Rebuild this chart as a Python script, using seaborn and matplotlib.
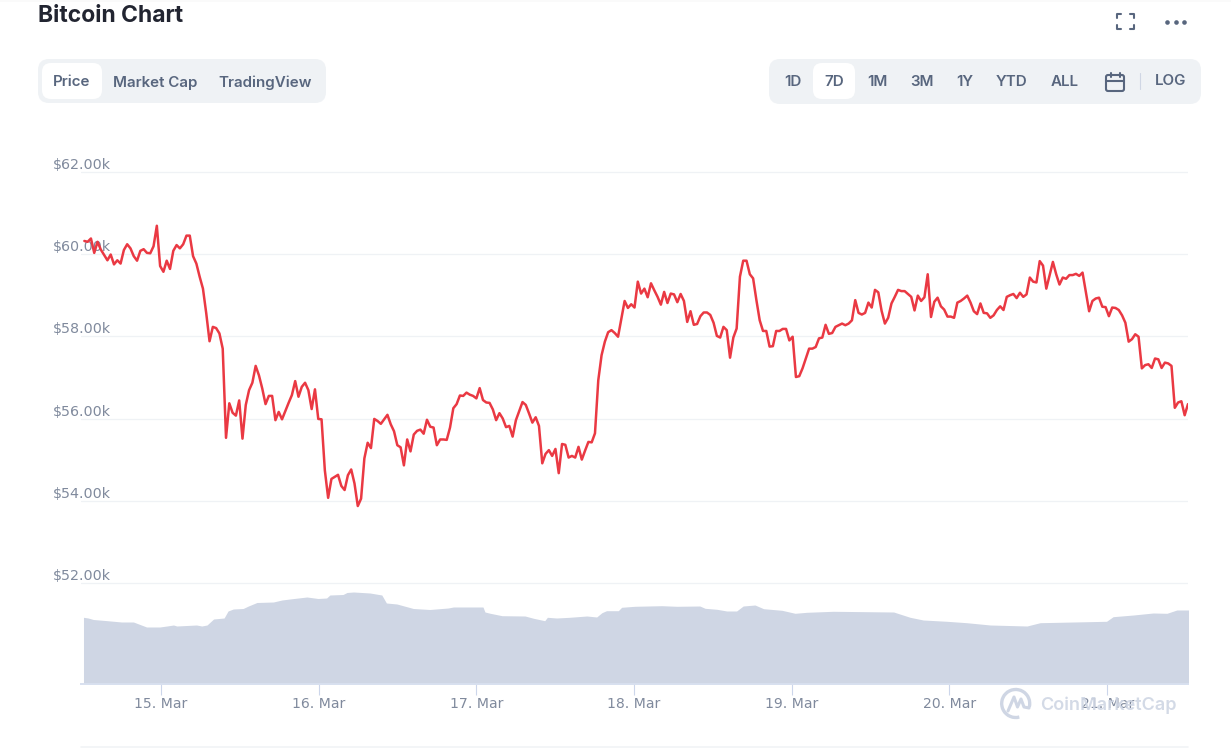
import pandas as pd
import numpy as np
import matplotlib.pyplot as plt
import matplotlib.dates as mdates
from matplotlib.patches import FancyBboxPatch, Arc, Rectangle
import seaborn as sns

# ---------------------------------------------------------
# Data
# ---------------------------------------------------------
# BTC price in $k, one reading about every 30 minutes
prices = [
    60.32, 60.30, 60.38, 60.03, 60.30, 60.11, 59.98, 59.85, 59.99, 59.75, 59.85, 59.77,
    60.10, 60.24, 60.14, 59.95, 59.84, 60.08, 60.12, 60.03, 60.02, 60.19, 60.69, 59.71,
    59.57, 59.84, 59.64, 60.08, 60.22, 60.14, 60.24, 60.45, 60.45, 59.95, 59.77, 59.45,
    59.16, 58.56, 57.88, 58.23, 58.20, 58.07, 57.70, 55.53, 56.37, 56.14, 56.07, 56.44,
    55.51, 56.33, 56.69, 56.87, 57.28, 57.05, 56.73, 56.35, 56.55, 56.55, 55.96, 56.16,
    55.98, 56.18, 56.38, 56.57, 56.91, 56.53, 56.77, 56.87, 56.69, 56.23, 56.71, 55.99,
    55.98, 54.74, 54.07, 54.53, 54.58, 54.63, 54.36, 54.26, 54.62, 54.76, 54.42, 53.87,
    54.05, 55.03, 55.41, 55.28,
    55.99, 55.94, 55.87, 55.98, 56.09, 55.86, 55.69, 55.35, 55.30, 54.86, 55.49, 55.20,
    55.61, 55.70, 55.73, 55.63, 55.97, 55.80, 55.78, 55.35, 55.49, 55.49, 55.48, 55.78,
    56.25, 56.35, 56.56, 56.55, 56.63, 56.58, 56.55, 56.49, 56.74, 56.45, 56.39, 56.38,
    56.22, 55.96, 56.13, 56.00, 55.79, 55.82, 55.56, 55.96, 56.18, 56.40, 56.33, 56.12,
    55.90, 56.03, 55.82, 54.91, 55.14, 55.23, 55.09, 55.26, 54.67, 55.38, 55.36, 55.05,
    55.09, 55.05, 55.31, 55.00, 55.22, 55.43, 55.42, 55.64, 56.93, 57.54, 57.87, 58.10,
    58.15, 58.08, 57.99, 58.43, 58.86, 58.69, 58.78, 58.70, 59.33, 59.04, 59.16, 58.95,
    59.29, 59.12, 58.96, 58.77,
    59.08, 58.81, 59.04, 59.02, 58.83, 59.03, 58.86, 58.35, 58.61, 58.28, 58.30, 58.49,
    58.58, 58.58, 58.52, 58.33, 58.01, 57.97, 58.23, 58.15, 57.48, 57.97, 58.19, 59.45,
    59.84, 59.84, 59.51, 59.41, 58.88, 58.39, 58.13, 58.13, 57.75, 57.76, 58.13, 58.13,
    58.18, 58.18, 57.90, 57.99, 57.01, 57.03, 57.22, 57.46, 57.70, 57.70, 57.74, 57.95,
    57.97, 58.28, 58.06, 58.08, 58.23, 58.27, 58.31, 58.27, 58.31, 58.39, 58.88, 58.57,
    58.53, 58.57, 58.82, 58.70, 59.13, 59.07, 58.62, 58.31, 58.45, 58.80, 58.96, 59.13,
    59.10, 59.10, 59.03, 58.96, 58.63, 58.99, 58.86, 58.95, 59.51,
    58.47, 58.84, 58.94, 58.73, 58.65, 58.48, 58.48, 58.45, 58.82, 58.86, 58.92, 58.99,
    58.82, 58.61, 58.54, 58.80, 58.57, 58.56, 58.45, 58.51, 58.64, 58.73, 58.64, 58.96,
    59.00, 59.03, 58.93, 59.06, 58.96, 59.02, 59.43, 59.33, 59.31, 59.83, 59.72, 59.16,
    59.49, 59.81, 59.51, 59.26, 59.43, 59.40, 59.49, 59.49, 59.52, 59.47, 59.55, 59.08,
    58.61, 58.86, 58.92, 58.94, 58.72, 58.71, 58.49, 58.70, 58.69, 58.64, 58.51, 58.33,
    57.87, 57.93, 58.05, 57.99, 57.22, 57.30, 57.32, 57.23, 57.46, 57.44, 57.23, 57.36,
    57.34, 57.28, 56.26, 56.39, 56.42, 56.08, 56.35,
]

# volume band, hours after 15 Mar 00:00 and height
volume_hours = [
    -11.8, -11.1, -10.3, -8.5, -6, -4.2, -3.2, -2.2, -0.2, 0.9, 1.9, 2.4, 5.4, 6.2, 7, 7.5, 8,
    9.6, 10.2, 11, 12.5, 13.3, 14.6, 17.1, 18.4, 19.6, 22.2, 23.9, 25.2, 25.7, 27.7, 28.3, 29.3,
    31.8, 33.6, 34.3, 35.9, 38.4, 40.9, 43.7, 44.5, 49, 49.3, 50.1, 51.9, 55.4, 56.7, 58.4, 58.8,
    60.2, 62.2, 64.8, 66.3, 67.1, 67.8, 69.6, 70.1, 72.1, 76.2, 78.5, 82, 82.8, 84.6, 86.1, 87.6,
    88.6, 90.4, 91.7, 94.5, 96.5, 98.3, 102.3, 111.5, 114, 116, 119.6, 122.6, 126.2, 131.8, 133.8,
    143.9, 144.9, 148, 151, 153.1, 154.6, 156.4,
]
volume = [
    66.7, 66, 64.5, 63.5, 62, 62, 59.5, 57, 57, 58, 59, 58, 59, 58, 59, 62, 65,
    66, 73, 75, 75.5, 78, 81.5, 82, 84, 85, 87, 85.5, 86, 89, 89.5, 91.5, 92,
    91, 89, 81, 80, 75.5, 74.5, 76, 77, 77, 72, 70.7, 68.3, 68, 65.7, 63.3, 66.7,
    66, 66.7, 68, 67, 71.3, 73.3, 73.3, 76.7, 77.7, 78.3, 77.7, 78, 75.7, 74.7, 73, 73,
    78, 79, 75.3, 73.7, 70.7, 71.7, 72.7, 72, 66.7, 64, 62.7, 61.3, 59, 58, 61.3,
    62.7, 67.3, 69, 71, 70.7, 74, 74,
]

price_ticks = [52, 54, 56, 58, 60, 62]
day_ticks = ["2021-03-15", "2021-03-16", "2021-03-17", "2021-03-18",
             "2021-03-19", "2021-03-20", "2021-03-21"]
left_tabs = ["Price", "Market Cap", "TradingView"]
range_tabs = ["1D", "7D", "1M", "3M", "1Y", "YTD", "ALL"]

RED = "#EA3943"
SLATE = "#58667E"
PANEL = "#EFF2F5"
LABEL = "#808A9D"
VOL = "#CFD6E4"
AXIS = "#CCD6EB"

W, H = 1231, 749

sns.set_theme(style="white")
plt.rcParams["font.family"] = ["Inter", "DejaVu Sans"]

day0 = pd.Timestamp("2021-03-15")
df = pd.DataFrame({
    "time": pd.date_range(day0 + pd.Timedelta(hours=-11.67), periods=len(prices), freq="1805s"),
    "price": prices,
})
vol_time = day0 + pd.to_timedelta(volume_hours, unit="h")

fig = plt.figure(figsize=(W / 100, H / 100), dpi=100, facecolor="white")

# plot area spans x 81-1188, y 130-684 in pixels
ax = fig.add_axes([81 / W, 1 - 684 / H, (1188 - 81) / W, (684 - 130) / H])
ax_vol = ax.twinx()
ax.set_zorder(ax_vol.get_zorder() + 1)
ax.patch.set_visible(False)

ax_vol.fill_between(vol_time, 0, volume, color=VOL, lw=0)
ax_vol.set_ylim(0, 554)
ax_vol.set_yticks([])
for s in ax_vol.spines.values():
    s.set_visible(False)

sns.lineplot(data=df, x="time", y="price", color=RED, lw=1.8, errorbar=None, ax=ax)
ax.lines[-1].set_solid_joinstyle("round")

ax.set_xlim(day0 + pd.Timedelta(hours=-12.18), day0 + pd.Timedelta(hours=156.3))
ax.set_ylim(49.54, 63.02)
ax.set_xlabel("")
ax.set_ylabel("")

ax.set_yticks(price_ticks)
ax.set_yticklabels([f"${p:.2f}k" for p in price_ticks], family="DejaVu Sans",
                   fontsize=10.3, color=LABEL, va="bottom")
ax.tick_params(axis="y", length=0, pad=-21.6)
ax.grid(axis="y", color=PANEL, lw=0.9)
ax.set_axisbelow(True)

ax.set_xticks(pd.to_datetime(day_ticks))
ax.xaxis.set_major_formatter(mdates.DateFormatter("%d. %b"))
ax.tick_params(axis="x", bottom=True, length=8, width=0.8, color=AXIS, labelcolor=LABEL,
               labelsize=10.1, pad=1.5)
for lab in ax.get_xticklabels():
    lab.set_family("DejaVu Sans")

for name in ["top", "left", "right"]:
    ax.spines[name].set_visible(False)
ax.spines["bottom"].set_color("#D8E0EF")
ax.spines["bottom"].set_linewidth(1.4)

# ---------------------------------------------------------
# Page furniture, in pixel coordinates
# ---------------------------------------------------------
ui = fig.add_axes([0, 0, 1, 1], zorder=10)
ui.set_xlim(0, W)
ui.set_ylim(H, 0)
ui.axis("off")


def box(x0, y0, x1, y1, color, r=10):
    ui.add_patch(FancyBboxPatch((x0, y0), x1 - x0, y1 - y0, fc=color, ec="none",
                                boxstyle=f"round,pad=0,rounding_size={r}"))


ui.add_patch(Rectangle((0, 0), W, 2, fc="#FAFAFA", ec="none"))
ui.plot([81, 1188], [747, 747], color="#F1F3F6", lw=1.2)

ui.text(38, 15.5, "Bitcoin Chart", fontsize=16.5, fontweight="bold", color="#222531",
        ha="left", va="center")

box(38, 59, 326, 103, PANEL, 11)
box(42, 63, 102, 99, "white", 9)
for label, cx in zip(left_tabs, [71.7, 154.7, 265]):
    ui.text(cx, 82.5, label, fontsize=10.9, fontweight="semibold", color=SLATE,
            ha="center", va="center")

box(769, 59, 1201, 104, PANEL, 11)
box(813, 63, 855, 99, "white", 9)
for label, cx in zip(range_tabs, [792.7, 834, 877, 922, 964.5, 1012, 1064.5]):
    ui.text(cx, 82.5, label, fontsize=10.9, fontweight="semibold", color=SLATE,
            ha="center", va="center")
ui.text(1171, 81, "LOG", fontsize=10.9, fontweight="semibold", color=SLATE,
        ha="center", va="center")
ui.plot([1140, 1140], [73, 89], color="#CFD6E4", lw=0.8)

# calendar icon
ui.add_patch(FancyBboxPatch((1106, 75), 18, 16, fc="none", ec=SLATE, lw=1.5,
                            boxstyle="round,pad=0,rounding_size=2"))
ui.plot([1106, 1124], [80.5, 80.5], color=SLATE, lw=1.5)
ui.plot([1110.5, 1110.5], [73, 77], color=SLATE, lw=1.5)
ui.plot([1119.5, 1119.5], [73, 77], color=SLATE, lw=1.5)

# fullscreen icon
for cx, dx in [(1117, 1), (1134, -1)]:
    for cy, dy in [(14, 1), (29, -1)]:
        ui.plot([cx + 4 * dx, cx, cx], [cy, cy, cy + 4 * dy], color=SLATE, lw=1.5,
                solid_joinstyle="round")

# three dots
ui.scatter([1167, 1175.5, 1183.5], [21.5, 21.5, 21.5], s=11, color=SLATE, lw=0)

# watermark
ui.add_patch(Arc((1015.7, 703.5), 28, 28, theta1=75, theta2=15, ec=VOL, lw=2.4))
ui.plot([1008, 1014, 1017.5, 1021, 1024, 1029], [711, 697, 707, 699, 707, 708],
        color=VOL, lw=2.2, solid_joinstyle="round")
ui.text(1040, 705.5, "CoinMarketCap", fontsize=13, fontweight="semibold", color=VOL,
        alpha=0.9, ha="left", va="center")

plt.savefig("out.png", dpi=100)
